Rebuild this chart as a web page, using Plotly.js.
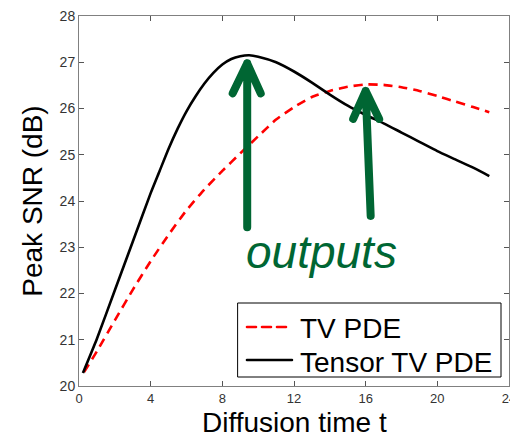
<!DOCTYPE html>
<html><head><meta charset="utf-8">
<script src="https://cdn.plot.ly/plotly-3.0.1.min.js"></script>
<style>
html,body{margin:0;padding:0;background:#fff;}
#chart{width:510px;height:433px;}
.shapelayer path{stroke-linecap:round;stroke-linejoin:round;}
</style></head><body><div id="chart"></div>
<script>
// Tensor TV PDE (black solid)
const tTensor = [0.22, 1, 2, 3, 4, 4.5, 5, 5.5, 6, 6.5, 7, 7.5, 8, 8.5, 9, 9.5, 10, 11, 12, 13, 14, 15, 16, 17, 18, 19, 20, 21, 22, 22.9];
const snrTensor = [20.28, 21.02, 22.07, 23.12, 24.17, 24.65, 25.13, 25.56, 25.94, 26.26, 26.54, 26.77, 26.95, 27.07, 27.13, 27.15, 27.12, 27.0, 26.8, 26.56, 26.3, 26.06, 25.86, 25.68, 25.48, 25.28, 25.08, 24.9, 24.72, 24.54];
// TV PDE (red dashed)
const tTV = [0.28, 1, 2, 3, 4, 5, 6, 7, 8, 9, 10, 11, 12, 13, 14, 15, 16, 17, 18, 19, 20, 21, 22, 22.9];
const snrTV = [20.3, 20.75, 21.42, 22.08, 22.7, 23.27, 23.8, 24.25, 24.65, 25.03, 25.4, 25.76, 26.03, 26.25, 26.38, 26.47, 26.52, 26.51, 26.46, 26.38, 26.27, 26.15, 26.03, 25.92];
const seriesNames = ['TV PDE', 'Tensor TV PDE'];
const seriesColors = ['#ff0000', '#000000'];
const seriesDash = ['9px,6px', 'solid'];
const xTicks = [0, 4, 8, 12, 16, 20, 24];
const yTicks = [20, 21, 22, 23, 24, 25, 26, 27, 28];
const xTitle = 'Diffusion time t';
const yTitle = 'Peak SNR (dB)';
const noteText = 'outputs';

const FONT = 'Liberation Sans, Arial, Helvetica, sans-serif';
const GREEN = '#006633';

function argmax(a){let k=0;for(let i=1;i<a.length;i++) if(a[i]>a[k]) k=i;return k;}
const iT = argmax(snrTensor), iV = argmax(snrTV);

const traces = [
  {x: tTV, y: snrTV, name: seriesNames[0], type: 'scatter', mode: 'lines', showlegend: false,
   line: {color: seriesColors[0], width: 2.6, dash: seriesDash[0], shape: 'spline', smoothing: 0.5}},
  {x: tTensor, y: snrTensor, name: seriesNames[1], type: 'scatter', mode: 'lines', showlegend: false,
   line: {color: seriesColors[1], width: 2.6, dash: seriesDash[1], shape: 'spline', smoothing: 0.5}}
];

// manual legend (box, sample lines, labels) in paper coordinates
const legBox = {x0: 0.3698, x1: 0.9814, y0: 0.0243, y1: 0.2243};
const legRowY = [0.1595, 0.0703];
const legTextY = [0.1551, 0.0624];
const legLineX = [0.3907, 0.4953];
const legTextX = 0.5093;

const arrowLine = {color: GREEN, width: 8};
const shapes = [
  {type: 'rect', xref: 'paper', yref: 'paper', x0: legBox.x0, x1: legBox.x1, y0: legBox.y0, y1: legBox.y1,
   line: {color: '#000', width: 1}, fillcolor: '#fff', layer: 'above'},
  {type: 'path', xref: 'x', yref: 'y', xsizemode: 'pixel', ysizemode: 'pixel',
   xanchor: tTensor[iT], yanchor: snrTensor[iT],
   path: 'M -2,-8 L -2,-172 M -16.5,-38 L -2,-8 L 11.5,-38', line: arrowLine},
  {type: 'path', xref: 'x', yref: 'y', xsizemode: 'pixel', ysizemode: 'pixel',
   xanchor: tTV[iV], yanchor: snrTV[iV],
   path: 'M 5,-131.5 L 0,-6.5 M -12.5,-34.5 L 0,-6.5 L 13.5,-34.5', line: arrowLine}
];
const annotations = [
  {text: noteText, xref: 'x', yref: 'y', x: 13.53, y: 22.9, xanchor: 'center', yanchor: 'middle',
   showarrow: false, font: {family: FONT, size: 46, color: GREEN, style: 'italic'}},
  {text: xTitle, xref: 'paper', yref: 'paper', x: 0.5, y: -0.0986, xanchor: 'center', yanchor: 'middle',
   showarrow: false, font: {family: FONT, size: 28, color: '#000'}}
];
seriesNames.forEach((nm, i) => {
  shapes.push({type: 'line', xref: 'paper', yref: 'paper', x0: legLineX[0], x1: legLineX[1],
    y0: legRowY[i], y1: legRowY[i], layer: 'above',
    line: {color: seriesColors[i], width: 2.6, dash: seriesDash[i]}});
  annotations.push({text: nm, xref: 'paper', yref: 'paper', x: legTextX, y: legTextY[i],
    xanchor: 'left', yanchor: 'middle', showarrow: false,
    font: {family: FONT, size: 28, color: '#000'}});
});

const layout = {
  width: 510, height: 433,
  margin: {l: 79, r: 1, t: 16, b: 47},
  paper_bgcolor: '#fff', plot_bgcolor: '#fff',
  font: {family: FONT, color: '#000'},
  showlegend: false,
  xaxis: {range: [0, 24], tickvals: xTicks, ticktext: xTicks.map(String),
    ticks: 'inside', ticklen: 5, tickcolor: '#555', mirror: 'ticks', ticklabeloverflow: 'allow',
    showline: true, linecolor: '#808080', linewidth: 1, showgrid: false, zeroline: false,
    tickfont: {family: FONT, size: 13, color: '#333'}},
  yaxis: {range: [20, 28], tickvals: yTicks, ticktext: yTicks.map(String),
    ticks: 'inside', ticklen: 5, tickcolor: '#555', mirror: 'ticks',
    showline: true, linecolor: '#808080', linewidth: 1, showgrid: false, zeroline: false,
    tickfont: {family: FONT, size: 14, color: '#333'},
    title: {text: yTitle, font: {family: FONT, size: 28, color: '#000'}, standoff: 8}},
  shapes: shapes,
  annotations: annotations
};
Plotly.newPlot('chart', traces, layout, {displayModeBar: false, staticPlot: true});
</script></body></html>
